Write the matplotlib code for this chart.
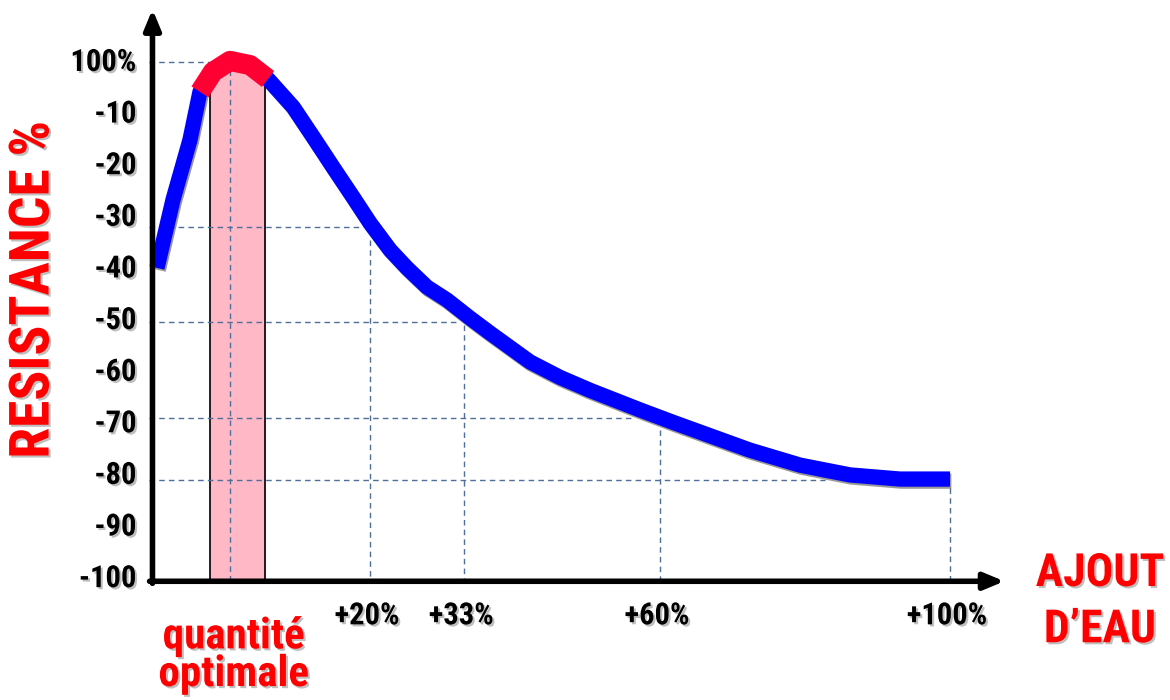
import matplotlib
matplotlib.use("Agg")
import matplotlib.pyplot as plt
import matplotlib.patheffects as pe
import numpy as np

# curve (x = % water added, y = resistance change)
curve_x = [-9.38, -7.17, -4.83, -3.45, -1.66, 0.69, 3.45, 5.93, 9.38, 12.14, 14.90,
           17.66, 20.0, 22.76, 25.10, 27.86, 30.62, 33.79, 36.55, 42.07, 46.21, 50.34,
           57.24, 61.79, 65.52, 72.41, 79.31, 86.21, 93.10, 100.0]
curve_y = [-39.9, -26.7, -15.1, -5.8, -1.9, 0.2, -0.6, -3.3, -8.7, -14.5, -20.4,
           -26.2, -31.2, -36.4, -39.9, -43.6, -46.1, -49.6, -52.5, -58.1, -61.1, -63.6,
           -67.4, -69.8, -71.7, -75.2, -78.1, -80.0, -80.8, -80.8]

# optimal zone (red part of the curve, pink band)
opt_lo, opt_hi = -2.1, 5.5
red_lo, red_hi = -3.45, 5.93

ytick_vals = [0, -10, -20, -30, -40, -50, -60, -70, -80, -90, -100]
ytick_labels = ["100%", "-10", "-20", "-30", "-40", "-50", "-60", "-70", "-80", "-90", "-100"]
xtick_vals = [20, 33, 60, 100]
xtick_labels = ["+20%", "+33%", "+60%", "+100%"]

# dashed guides: x of vertical, y of horizontal, horizontal end, vertical top
guide_x = [0.7, 20, 33, 60, 100]
guide_y = [0, -32, -50.4, -69, -81]
guide_hend = [-2.0, 18.6, 32.0, 56.3, 82.8]
guide_vtop = [-1.5, -34.5, -51.0, -71.3, -82.6]

x0, y0 = -10, -100.6

FONT = ["Roboto Condensed", "DejaVu Sans"]
shadow = [pe.withSimplePatchShadow(offset=(1.5, -1.5), shadow_rgbFace="gray", alpha=0.5)]

fig = plt.figure(figsize=(11.7, 7.0), dpi=100)
ax = fig.add_axes([0, 0, 1, 1])
ax.set_xlim(-31.03, 130.34)
ax.set_ylim(-123.6, 12.0)
ax.axis("off")

cx = np.array(curve_x)
cy = np.array(curve_y)

# pink band under the optimum
bx = np.linspace(opt_lo, opt_hi, 50)
ax.fill_between(bx, y0, np.interp(bx, cx, cy), color="#FFB8C6", zorder=1)
for xb in (opt_lo, opt_hi):
    ax.plot([xb, xb], [y0, np.interp(xb, cx, cy)], color="black", lw=1.2, zorder=2)

# dashed guides
gc = "#4F6E9A"
for gx, gy, he, vt in zip(guide_x, guide_y, guide_hend, guide_vtop):
    ax.plot([x0 - 0.5, he], [gy, gy], color=gc, lw=1.0, ls=(0, (4, 3)), zorder=2)
    ax.plot([gx, gx], [vt, y0], color=gc, lw=1.0, ls=(0, (4, 3)), zorder=2)

# curve
ax.plot(cx, cy, color="#0000FF", lw=11, solid_capstyle="butt", solid_joinstyle="round",
        zorder=4, path_effects=[pe.SimpleLineShadow(offset=(1, -1.5), alpha=0.4), pe.Normal()])
mask = (cx >= red_lo) & (cx <= red_hi)
ax.plot(cx[mask], cy[mask], color="#FF0033", lw=14.5, solid_capstyle="butt",
        solid_joinstyle="round", zorder=5)

# axes with arrows
ax.annotate("", xy=(x0, 10.2), xytext=(x0, y0 - 0.4),
            arrowprops=dict(arrowstyle="-|>,head_length=1.2,head_width=0.5", color="black",
                            lw=4, shrinkA=0, shrinkB=0), zorder=6)
ax.annotate("", xy=(107.5, y0), xytext=(x0 - 0.4, y0),
            arrowprops=dict(arrowstyle="-|>,head_length=1.2,head_width=0.5", color="black",
                            lw=4, shrinkA=0, shrinkB=0), zorder=6)

# tick labels
for v, t in zip(ytick_vals, ytick_labels):
    ax.text(-12.2, v, t, ha="right", va="center", fontsize=22, fontweight="bold",
            family=FONT, path_effects=shadow)
for v, t in zip(xtick_vals, xtick_labels):
    ax.text(v - 0.4, -107.2, t, ha="center", va="center", fontsize=22, fontweight="bold",
            family=FONT, path_effects=shadow)

# titles
ax.text(-26.4, -44.2, "RESISTANCE %", rotation=90, ha="center", va="center", fontsize=40,
        fontweight="bold", color="#FF0000", family=FONT, path_effects=shadow)
ax.text(120.7, -99.0, "AJOUT", ha="center", va="center", fontsize=33,
        fontweight="bold", color="#FF0000", family=FONT, path_effects=shadow)
ax.text(120.7, -109.9, "D\u2019EAU", ha="center", va="center", fontsize=33,
        fontweight="bold", color="#FF0000", family=FONT, path_effects=shadow)
ax.text(1.2, -113.6, "quantité", ha="center", va="baseline", fontsize=31,
        fontweight="bold", color="#FF0000", family=FONT, path_effects=shadow)
ax.text(1.2, -120.9, "optimale", ha="center", va="baseline", fontsize=31,
        fontweight="bold", color="#FF0000", family=FONT, path_effects=shadow)

fig.savefig("out.png", dpi=100)
plt.close(fig)
